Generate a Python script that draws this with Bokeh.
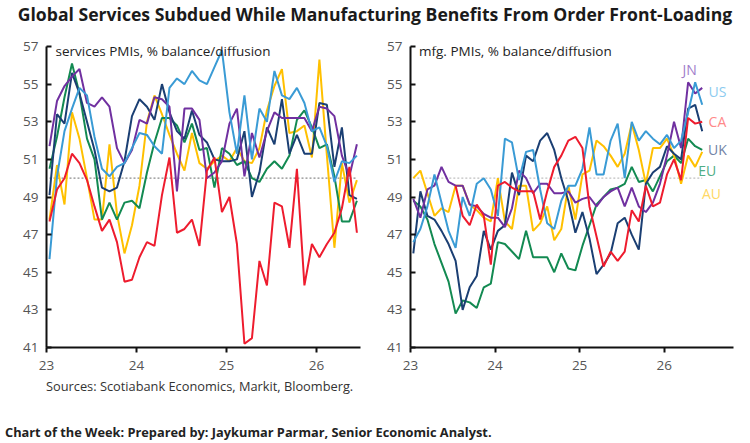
from bokeh.plotting import figure
from bokeh.models import Range1d, FixedTicker, Label, Div
from bokeh.layouts import column, row
from bokeh.embed import file_html
from bokeh.resources import INLINE

# ---------------- data (monthly, Jan-2023 .. Jun-2026) ----------------
n_months = 42
year_ticks = [2023, 2024, 2025, 2026]
tick_labels = {2023: "23", 2024: "24", 2025: "25", 2026: "26"}
nan = float("nan")

# services PMIs
svc_ca = [47.7, 49.4, 50.0, 51.3, 50.8, 49.9, 48.5, 47.2, 47.8, 46.6, 44.5, 44.6, 45.8, 46.6,
          46.4, 49.1, 51.1, 47.1, 47.3, 47.8, 46.4, 50.4, 51.1, 48.2, 49.0, 46.5, 41.2, 41.5,
          45.6, 44.3, 48.7, 48.5, 46.3, 50.5, 44.3, 46.5, 45.8, 46.5, 47.1, 48.4, 50.6, 47.1]
svc_eu = [50.5, 52.2, 54.3, 56.1, 54.5, 52.1, 51.0, 47.8, 48.7, 47.8, 48.7, 48.8, 48.4, 50.3,
          51.9, 53.2, 53.2, 52.8, 51.9, 52.9, 51.5, 51.6, 49.5, 51.6, 51.3, 50.7, 50.9, 50.0,
          49.8, 50.5, 50.9, 50.5, 51.2, 53.1, 53.6, 52.7, 51.6, 51.8, 50.1, 47.7, 47.7, 48.8]
svc_uk = [49.1, 53.4, 52.9, 55.6, 54.5, 53.0, 51.5, 49.5, 49.3, 49.5, 50.9, 53.3, 54.2, 53.8,
          53.1, 55.0, 53.5, 52.5, 52.1, 53.6, 52.3, 51.9, 51.0, 50.9, 50.9, 51.0, 52.5, 49.0,
          50.3, 52.7, 51.8, 54.2, 51.3, 52.3, 51.3, 51.3, 54.0, 53.9, 50.6, 52.7, 49.1, 48.9]
svc_jn = [51.7, 54.1, 54.9, 55.4, 55.8, 54.0, 53.8, 54.3, 53.8, 51.6, 50.8, 51.5, 53.1, 52.9,
          54.3, 54.2, 53.8, 49.3, 53.7, 53.7, 53.1, 50.0, 50.3, 50.9, 52.9, 53.7, 50.1, 52.4,
          51.1, 52.5, 53.5, 53.2, 53.2, 53.2, 53.2, 52.5, 53.8, 53.7, 53.3, 51.2, 50.1, 51.8]
svc_us = [45.7, 50.1, 52.5, 53.7, 54.8, 54.4, 52.2, 50.5, 50.1, 50.6, 50.8, 51.6, 52.4, 52.3,
          51.7, 51.3, 54.8, 55.3, 55.0, 55.7, 55.2, 55.0, 55.9, 56.8, 53.5, 51.3, 54.4, 51.0,
          53.7, 53.0, 55.7, 54.4, 54.2, 54.8, 54.0, 52.5, 52.7, 51.7, 49.8, 50.9, 50.8, 51.2]
svc_au = [47.8, 50.7, 48.6, 53.5, 52.1, 50.0, 47.8, 47.8, 51.8, 48.1, 46.0, 47.5, 49.6, 53.0,
          54.4, 53.4, 52.3, 51.3, 50.4, 52.4, 50.8, 50.5, 50.9, 51.2, 50.9, 51.6, 50.9, 50.8,
          51.6, 53.6, 54.9, 55.8, 52.4, 52.5, 52.8, 51.1, 56.3, 51.2, 46.3, 50.8, 48.7, 49.9]

# manufacturing PMIs
mfg_ca = [nan, nan, nan, nan, nan, nan, 49.6, 48.0, 47.5, 48.6, 48.0, 45.4, 49.6, 49.8,
          49.5, 49.3, 49.3, 49.3, 47.8, 49.3, 50.6, 51.2, 52.0, 52.2, 51.6, 48.5, 46.9, 45.3,
          46.1, 45.6, 46.1, 48.3, 47.7, 49.6, 48.5, 48.7, 50.2, 51.0, 49.9, 53.2, 52.9, 53.0]
mfg_eu = [48.8, 48.5, 47.8, 46.5, 45.5, 44.5, 42.8, 43.5, 43.4, 43.1, 44.2, 44.4, 46.6, 46.5,
          46.1, 45.7, 47.2, 45.8, 45.8, 45.8, 45.0, 46.0, 45.2, 45.1, 46.4, 47.5, 48.6, 49.0,
          49.4, 49.5, 49.7, 50.6, 49.8, 49.9, 49.3, 50.1, 50.9, 51.2, 50.8, 52.1, 51.7, 51.5]
mfg_uk = [46.0, 49.3, 48.0, 47.8, 47.2, 46.5, 45.6, 43.0, 44.2, 44.8, 47.2, 46.2, 47.2, 47.5,
          50.3, 49.1, 51.2, 50.9, 52.0, 52.4, 51.5, 50.0, 48.8, 47.1, 48.2, 46.8, 44.9, 45.4,
          46.0, 47.6, 47.9, 47.0, 46.2, 49.7, 50.3, 50.6, 51.7, 51.3, 51.0, 53.7, 53.9, 52.5]
mfg_jn = [48.9, 47.9, 49.4, 49.6, 50.6, 49.8, 49.6, 49.6, 48.6, 48.5, 48.1, 47.9, 47.9, 47.4,
          48.4, 50.4, 50.0, 49.2, 49.7, 49.7, 49.2, 49.2, 49.3, 48.7, 48.9, 49.0, 48.5, 49.0,
          49.3, 49.5, 48.5, 49.5, 48.5, 48.2, 48.7, 49.7, 51.2, 53.0, 51.6, 55.1, 54.5, 54.8]
mfg_us = [46.6, 47.3, 48.5, 50.2, 48.7, 47.2, 46.3, 49.0, 48.0, 49.7, 50.0, 49.4, 48.0, 52.1,
          51.9, 49.9, 51.4, 51.5, 49.4, 47.6, 47.3, 48.8, 49.6, 49.6, 50.5, 52.7, 50.2, 50.2,
          52.0, 52.9, 50.0, 53.0, 52.0, 52.5, 52.1, 51.8, 52.3, 51.6, 52.0, 53.5, 55.1, 53.9]
mfg_au = [50.0, 50.4, 49.2, 48.0, 48.4, 48.2, 49.6, 49.6, 48.6, 48.3, 47.9, 47.7, 50.0, 47.7,
          47.3, 49.6, 49.6, 47.2, 47.6, 48.5, 46.7, 47.3, 49.6, 47.8, 50.2, 50.4, 52.0, 51.7,
          51.2, 50.6, 51.3, 52.9, 51.5, 49.7, 51.6, 51.6, 52.1, 51.2, 49.7, 51.2, 50.6, 51.4]

# ---------------- styling ----------------
FONT = "Open Sans"
C_NAVY = "#1b3f73"
C_LBLUE = "#3a9bd5"
C_RED = "#ee1c2e"
C_GREEN = "#138a52"
C_YELLOW = "#ffc000"
C_PURPLE = "#7030a0"

# decimal-year position of each month (mid-month-ish)
xs = [2023 + (i + 0.4) / 12 for i in range(n_months)]


def make_panel(width, x_end, border_left, border_right, subtitle, dotted_color):
    p = figure(width=width, height=347, x_range=Range1d(2023, x_end), y_range=Range1d(41, 57),
               output_backend="svg", toolbar_location=None,
               min_border_left=border_left, min_border_right=border_right,
               min_border_top=16, min_border_bottom=30)
    p.outline_line_color = None
    p.xgrid.grid_line_color = None
    p.ygrid.grid_line_color = None
    p.background_fill_color = "white"
    p.border_fill_color = "white"

    p.yaxis.ticker = FixedTicker(ticks=[41, 43, 45, 47, 49, 51, 53, 55, 57])
    p.yaxis.major_tick_in = 5
    p.yaxis.major_tick_out = 0
    p.yaxis.minor_tick_line_color = None
    p.yaxis.axis_line_width = 2
    p.yaxis.axis_line_color = "#111111"
    p.yaxis.major_tick_line_width = 2
    p.yaxis.major_tick_line_color = "#111111"
    p.yaxis.major_label_text_font = FONT
    p.yaxis.major_label_text_font_size = "13.5px"
    p.yaxis.major_label_text_color = "#555555"
    p.yaxis.major_label_standoff = 8

    p.xaxis.ticker = FixedTicker(ticks=year_ticks)
    p.xaxis.major_label_overrides = tick_labels
    p.xaxis.major_tick_in = 0
    p.xaxis.major_tick_out = 5
    p.xaxis.minor_tick_line_color = None
    p.xaxis.axis_line_width = 2
    p.xaxis.axis_line_color = "#111111"
    p.xaxis.major_tick_line_width = 2
    p.xaxis.major_tick_line_color = "#111111"
    p.xaxis.major_label_text_font = FONT
    p.xaxis.major_label_text_font_size = "13.5px"
    p.xaxis.major_label_text_color = "#555555"
    p.xaxis.major_label_standoff = 8

    # 50 reference line
    p.line([xs[0], xs[-1]], [50, 50], line_color=dotted_color, line_width=1.2, line_dash="2 2")

    p.add_layout(Label(x=2023.1, y=56.75, text=subtitle, text_font=FONT, text_font_size="13.5px",
                       text_color="#222222", text_baseline="middle"))
    return p


p1 = make_panel(370, 2026.49, 46, 10, "services PMIs, % balance/diffusion", "#8a8a8a")
p2 = make_panel(380, 2026.82, 40, 17, "mfg. PMIs, % balance/diffusion", "#c0c0c0")

for ys, col in [(svc_au, C_YELLOW), (svc_eu, C_GREEN), (svc_uk, C_NAVY), (svc_jn, C_PURPLE),
                (svc_us, C_LBLUE), (svc_ca, C_RED)]:
    p1.line(xs, ys, line_color=col, line_width=2)

for ys, col in [(mfg_eu, C_GREEN), (mfg_au, C_YELLOW), (mfg_uk, C_NAVY), (mfg_jn, C_PURPLE),
                (mfg_us, C_LBLUE), (mfg_ca, C_RED)]:
    p2.line(xs, ys, line_color=col, line_width=2)

# country labels on the right panel
for txt, lx, ly, col in [("JN", 2026.30, 55.8, "#a07ccb"), ("US", 2026.63, 54.6, "#8ccbef"),
                         ("CA", 2026.63, 53.0, "#ff8a8a"), ("UK", 2026.63, 51.5, "#7283a6"),
                         ("EU", 2026.51, 50.4, "#4fae86"), ("AU", 2026.56, 49.2, "#ffd866")]:
    p2.add_layout(Label(x=lx, y=ly, text=txt, text_font=FONT, text_font_size="14px",
                        text_color=col, text_align="center", text_baseline="middle"))

title = Div(text=('<div style="width:750px;text-align:center;font-family:\'Open Sans\';'
                  'font-weight:bold;font-size:17.6px;color:#1a1a1a;line-height:28px;'
                  'white-space:nowrap;">Global Services Subdued While Manufacturing Benefits '
                  'From Order Front-Loading</div>'),
            width=750, height=30, margin=(0, 0, 0, 0))

footer = Div(text=('<div style="position:relative;width:750px;height:66px;">'
                   '<div style="position:absolute;left:46px;top:1px;font-family:\'Open Sans\';'
                   'font-size:12.8px;color:#333333;line-height:16px;white-space:nowrap;">'
                   'Sources: Scotiabank Economics, Markit, Bloomberg.</div>'
                   '<div style="position:absolute;left:5px;top:48px;font-family:\'Open Sans\';'
                   'font-weight:bold;font-size:12.8px;color:#222222;line-height:14px;'
                   'white-space:nowrap;">'
                   'Chart of the Week: Prepared by: Jaykumar Parmar, Senior Economic Analyst.'
                   '</div></div>'),
             width=750, height=66, margin=(0, 0, 0, 0))

layout = column(title, row(p1, p2, spacing=0), footer, spacing=0)
open("out.html", "w").write(file_html(layout, INLINE))
